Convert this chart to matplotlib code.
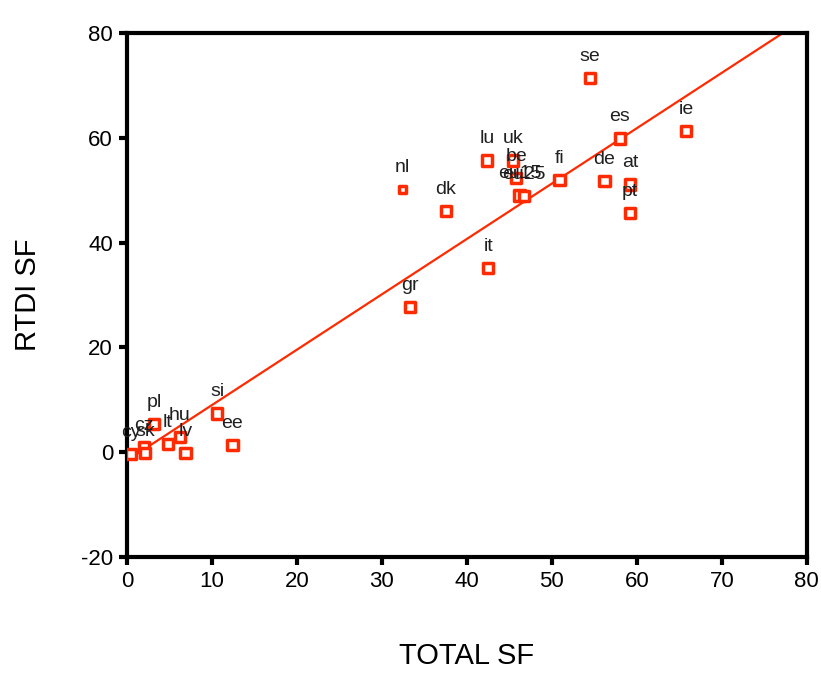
import numpy as np
import matplotlib
matplotlib.use("Agg")
import matplotlib.pyplot as plt

plt.rcParams['font.family'] = ['Liberation Sans', 'DejaVu Sans']
plt.rcParams['axes.unicode_minus'] = False

# country codes with TOTAL SF (x) and RTDI SF (y)
codes = ['se', 'ie', 'es', 'lu', 'uk', 'be', 'eu15', 'eu25', 'fi', 'de', 'at', 'pt',
         'nl', 'dk', 'it', 'gr', 'si', 'ee', 'cy', 'cz', 'sk', 'pl', 'lt', 'hu', 'lv']
total_sf = [54.5, 65.8, 58.0, 42.4, 45.4, 45.8, 46.2, 46.7, 50.9, 56.2, 59.2, 59.2,
            32.4, 37.5, 42.5, 33.3, 10.6, 12.4, 0.5, 2.0, 2.1, 3.2, 4.8, 6.2, 6.9]
rtdi_sf = [71.4, 61.3, 59.9, 55.7, 55.7, 52.3, 49.0, 48.9, 51.9, 51.7, 51.1, 45.6,
           50.2, 46.0, 35.1, 27.7, 7.4, 1.3, -0.4, 1.0, -0.2, 5.4, 1.5, 2.9, -0.2]

red = '#ff2a00'

fig = plt.figure(figsize=(8.21, 6.75), dpi=100)
ax = fig.add_axes([0.1547, 0.175, 0.828, 0.776])

x = np.array(total_sf)
y = np.array(rtdi_sf)
sizes = [25 if c == 'nl' else 55 for c in codes]

ax.scatter(x, y, marker='s', s=sizes, facecolors='white', edgecolors=red,
           linewidths=2.5, zorder=3)

for c, xi, yi in zip(codes, x, y):
    ax.annotate(c, (xi, yi), xytext=(0, 13), textcoords='offset pixels',
                ha='center', va='bottom', fontsize=14, color='#202020', zorder=4)

# linear fit line
b, a = np.polyfit(x, y, 1)
xl = np.array([0, 80])
ax.plot(xl, a + b * xl, color=red, lw=1.6, zorder=2)

ax.set_xlim(0, 80)
ax.set_ylim(-20, 80)
ax.set_xticks(range(0, 81, 10))
ax.set_yticks(range(-20, 81, 20))
for s in ax.spines.values():
    s.set_linewidth(3)
ax.tick_params(width=3, length=6, labelsize=16, pad=4)
ax.set_xlabel('TOTAL SF', fontsize=21, labelpad=36)
ax.set_ylabel('RTDI SF', fontsize=21, labelpad=28)

fig.savefig('out.png', dpi=100)
